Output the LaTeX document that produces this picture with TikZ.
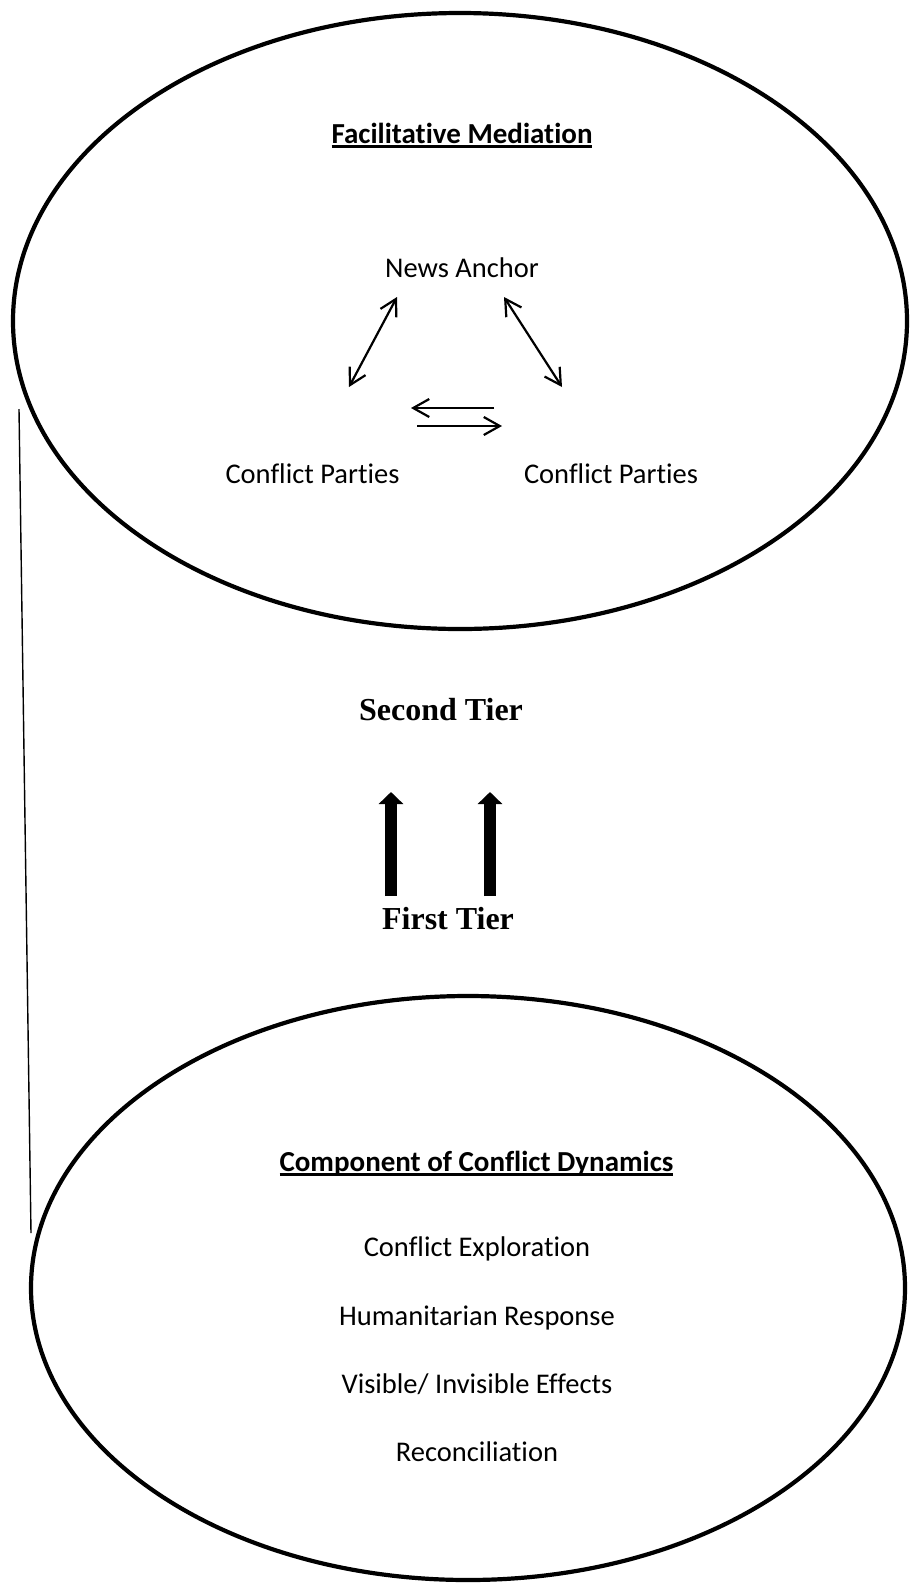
\documentclass[tikz,border=0pt]{standalone}
\usepackage{fontspec}
\setmainfont{Carlito}[Ligatures=NoCommon]
\newfontfamily\tierfont{Liberation Serif}
\usetikzlibrary{arrows.meta,shapes.geometric}
\newcommand\underlined[1]{\setbox0\hbox{#1}\rlap{\rule[-4.5pt]{\wd0}{2.2pt}}\box0}

\begin{document}
\begin{tikzpicture}[x=1pt,y=-1pt,
  oval/.style={draw,ellipse,line width=4.2pt,inner sep=0pt},
  itemtext/.style={anchor=base,inner sep=0pt,font=\fontsize{28.5}{34}\selectfont},
  heading/.style={anchor=base,inner sep=0pt,font=\fontsize{29}{34}\selectfont\bfseries},
  tier/.style={anchor=base,inner sep=0pt,font=\fontsize{32}{38}\selectfont\tierfont\bfseries},
  link/.style={line width=2.2pt,-{Straight Barb[length=16pt,width=18pt]}},
  twoway/.style={line width=2.2pt,{Straight Barb[length=16pt,width=18pt]}-{Straight Barb[length=16pt,width=18pt]}},
  lift/.style={line width=12pt,-{Triangle[length=12pt,width=24pt]}}]
\useasboundingbox (0,0) rectangle (910,1583);

% second tier oval
\node[oval,minimum width=894pt,minimum height=616pt] (facil) at (460,321) {};
\node[heading] (facilhead) at (462,143) {\underlined{Facilitative Mediation}};
\node[itemtext] (newsanchor) at (462,277) {News Anchor};
\node[itemtext] (partyL) at (312.5,483) {Conflict Parties};
\node[itemtext] (partyR) at (611,483) {Conflict Parties};

\coordinate (naL) at (397,297);
\coordinate (cpL) at (349,387);
\coordinate (naR) at (504,297);
\coordinate (cpR) at (562,387);
\draw[twoway] (naL)--(cpL);
\draw[twoway] (naR)--(cpR);
\coordinate (swapLa) at (494,408);
\coordinate (swapLb) at (411,408);
\coordinate (swapRa) at (417,426);
\coordinate (swapRb) at (502,426);
\draw[link] (swapLa)--(swapLb);
\draw[link] (swapRa)--(swapRb);

% tiers
\node[tier] (second) at (441,720) {Second Tier};
\node[tier] (first) at (448,929) {First Tier};
\coordinate (liftLa) at (391,896);
\coordinate (liftLb) at (391,792);
\coordinate (liftRa) at (490,896);
\coordinate (liftRb) at (490,792);
\draw[lift] (liftLa)--(liftLb);
\draw[lift] (liftRa)--(liftRb);

% first tier oval
\node[oval,minimum width=874pt,minimum height=584pt] (dynamics) at (468,1288) {};
\node[heading] (dynhead) at (476.5,1171) {\underlined{Component of Conflict Dynamics}};
\node[itemtext] (explore) at (477,1256) {Conflict Exploration};
\node[itemtext] (human) at (477,1325) {Humanitarian Response};
\node[itemtext] (effects) at (477,1393) {Visible/ Invisible Effects};
\node[itemtext] (reconcile) at (477,1461) {Reconciliation};

% side line
\coordinate (rimTop) at (19,409);
\coordinate (rimBot) at (31,1233);
\draw[line width=1.4pt] (rimTop)--(rimBot);
\end{tikzpicture}
\end{document}
